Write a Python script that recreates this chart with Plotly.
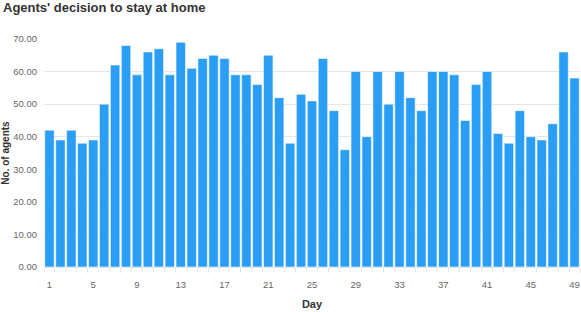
import plotly.graph_objects as go

days = list(range(1, 50))
agents_home = [42, 39, 42, 38, 39, 50, 62, 68, 59, 66,
               67, 59, 69, 61, 64, 65, 64, 59, 59, 56,
               65, 52, 38, 53, 51, 64, 48, 36, 60, 40,
               60, 50, 60, 52, 48, 60, 60, 59, 45, 56,
               60, 41, 38, 48, 40, 39, 44, 66, 58]
x_tick_vals = list(range(1, 50, 4))
y_tick_vals = [0, 10, 20, 30, 40, 50, 60, 70]

fig = go.Figure(go.Bar(
    x=days, y=agents_home,
    marker=dict(color="#2a9df4", line=dict(color="rgba(255,255,255,0.55)", width=1)),
))

fig.update_layout(
    width=581, height=312,
    margin=dict(l=44, r=1, t=39, b=45, autoexpand=False),
    paper_bgcolor="white", plot_bgcolor="white",
    bargap=0.14,
    showlegend=False,
    font=dict(family="Liberation Sans, Arial, sans-serif", color="#666666", size=10),
    title=dict(text="<b>Agents' decision to stay at home</b>",
               x=3 / 581, xanchor="left", xref="container", y=0.99, yanchor="top", yref="container",
               pad=dict(t=0, b=0, l=0, r=0),
               font=dict(size=13, color="#333333")),
)
fig.update_xaxes(
    range=[0.5, 49.5], tickmode="array", tickvals=x_tick_vals,
    ticks="", showgrid=False, zeroline=False,
    showline=True, linecolor="#e6e6e6", linewidth=1,
    ticklabeloverflow="allow", ticklabelstandoff=9,
    tickfont=dict(size=9.5, color="#666666"),
    minor=dict(ticks="outside", tick0=0.5, dtick=1, ticklen=5, tickcolor="#e6e6e6", showgrid=False),
    title=dict(text="<b>Day</b>", font=dict(size=11, color="#333333"), standoff=10),
)
fig.update_yaxes(
    range=[0, 70], tickmode="array", tickvals=y_tick_vals,
    ticktext=[f"{v:.2f}" for v in y_tick_vals],
    showgrid=True, gridcolor="#e6e6e6", gridwidth=1, zeroline=False,
    ticklabelstandoff=6,
    tickfont=dict(size=9.5, color="#666666"),
    title=dict(text="<b>No. of agents</b>", font=dict(size=10, color="#333333"), standoff=6),
)

fig.write_html("out.html", config={"displayModeBar": False},
               post_script="document.body.style.margin='0';")
